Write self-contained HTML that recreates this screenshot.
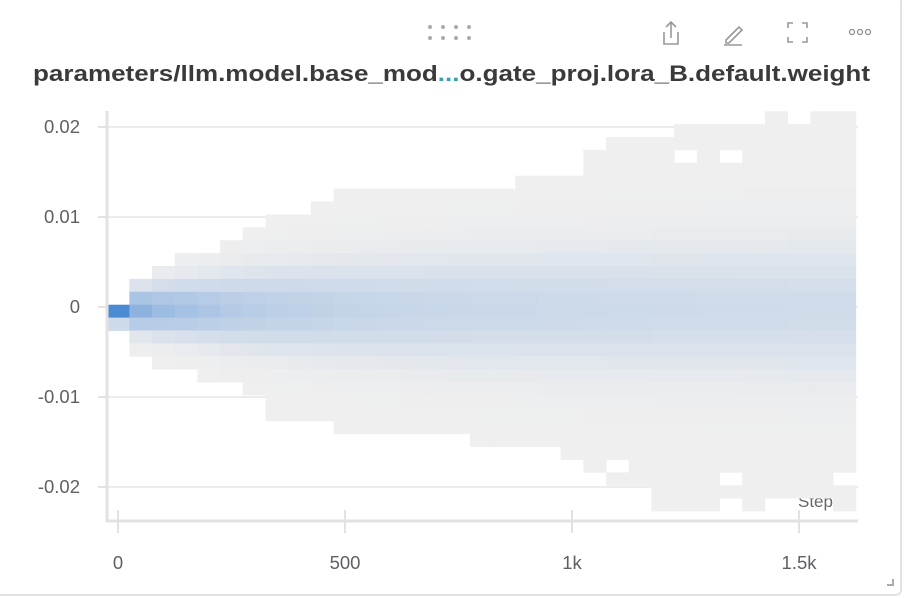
<!DOCTYPE html>
<html><head><meta charset="utf-8"><style>
html,body{margin:0;padding:0;background:#fff;}
#card{position:absolute;left:-4px;top:-4px;width:906px;height:600px;border:2px solid #e2e2e2;border-radius:6px;box-sizing:border-box;}
svg{position:absolute;left:0;top:0;font-family:"Liberation Sans",sans-serif;}
</style></head><body>
<div id="card"></div>
<svg id="chart" width="904" height="598">
  <g fill="#aaa">
    <circle cx="430" cy="27" r="2"/><circle cx="443" cy="27" r="2"/><circle cx="456" cy="27" r="2"/><circle cx="469" cy="27" r="2"/>
    <circle cx="430" cy="38" r="2"/><circle cx="443" cy="38" r="2"/><circle cx="456" cy="38" r="2"/><circle cx="469" cy="38" r="2"/>
  </g>
  <g fill="none" stroke="#999" stroke-width="1.6">
    <path d="M664 32 v12 h14 v-12"/><path d="M671 38 v-16 M666 27 l5-5 5 5"/>
  </g>
  <g fill="none" stroke="#999" stroke-width="1.6">
    <path d="M726 40 l13-13 3 3 -13 13 h-3z"/><path d="M724 45 h18"/>
  </g>
  <g fill="none" stroke="#999" stroke-width="1.6">
    <path d="M788 28 v-5 h5 M802 23 h5 v5 M807 37 v5 h-5 M793 42 h-5 v-5"/>
  </g>
  <g fill="none" stroke="#999" stroke-width="1.4">
    <circle cx="852" cy="32" r="2.5"/><circle cx="860" cy="32" r="2.5"/><circle cx="868" cy="32" r="2.5"/>
  </g>
  <text x="33" y="81" font-size="22" font-weight="bold" fill="#3a3a3a" textLength="837" lengthAdjust="spacingAndGlyphs">parameters/llm.model.base_mod<tspan fill="#3aa0b0">...</tspan>o.gate_proj.lora_B.default.weight</text>
  <g id="grid"></g>
  <text x="798" y="507" font-size="17" fill="#666">Step</text>
  <g id="cells"></g>
  <g id="axes"></g>
  <path d="M887 585 h6 v-6" fill="none" stroke="#aaa" stroke-width="2"/>
</svg>
<script>
const xTicks=[0,500,1000,1500];
const xTickLabels=["0","500","1k","1.5k"];
const yTicks=[0.02,0.01,0,-0.01,-0.02];
const yTickLabels=["0.02","0.01","0","-0.01","-0.02"];
const stepWidth=50;
const binWidth=0.001433;
const binOrigin=0.000256;
const colTop=[0.0003,0.0031,0.0046,0.006,0.006,0.0074,0.0089,0.0103,0.0103,0.0117,0.0132,0.0132,0.0132,0.0132,0.0132,0.0132,0.0132,0.0132,0.0146,0.0146,0.0146,0.0175,0.0189,0.0189,0.0189,0.0203,0.0203,0.0203,0.0203,0.0218,0.0203,0.0218,0.0218];
const colBottom=[-0.0026,-0.0055,-0.0069,-0.0069,-0.0083,-0.0083,-0.0098,-0.0126,-0.0126,-0.0126,-0.0141,-0.0141,-0.0141,-0.0141,-0.0141,-0.0141,-0.0155,-0.0155,-0.0155,-0.0155,-0.0169,-0.0184,-0.0198,-0.0198,-0.0227,-0.0227,-0.0227,-0.0212,-0.0227,-0.0212,-0.0212,-0.0212,-0.0227];
const colSpread=[0.0009,0.0015,0.0018,0.002,0.0022,0.0025,0.0027,0.0029,0.003,0.0032,0.0034,0.0035,0.0036,0.0037,0.0038,0.0039,0.004,0.004,0.0041,0.0042,0.0042,0.0043,0.0044,0.0044,0.0045,0.0045,0.0046,0.0046,0.0047,0.0047,0.0048,0.0048,0.0048];
const colCenter=-0.0003;
const emptyCells=[[25,0.0175],[27,0.0175],[22,-0.0169],[27,-0.0184],[32,-0.0184]];

const X0=118, XS=227/500, Y0=307, YS=9000, PL=107, PR=858, PT=111, PB=521;
const xS=s=>X0+s*XS, yS=v=>Y0-v*YS;
const NS="http://www.w3.org/2000/svg";
function mk(tag,attrs,parent){const e=document.createElementNS(NS,tag);for(const k in attrs)e.setAttribute(k,attrs[k]);parent.appendChild(e);return e;}
const grid=document.getElementById('grid'),cells=document.getElementById('cells'),axes=document.getElementById('axes');
yTicks.forEach((v,i)=>{
  const l=mk('line',{x1:PL,x2:PR,y1:yS(v),y2:yS(v),stroke:'#ececec','stroke-width':2},grid);
  
  
  const t=mk('line',{x1:PL-9,x2:PL,y1:yS(v),y2:yS(v),stroke:'#e2e2e2','stroke-width':2},axes);
  
  
  const tx=mk('text',{x:80,y:yS(v)+6,'text-anchor':'end','font-size':18.5,fill:'#5f5f66'},axes);
  tx.textContent=yTickLabels[i];
  
  
});
const ax=mk('line',{x1:PL,x2:PL,y1:PT,y2:PB+1,stroke:'#e2e2e2','stroke-width':3},axes);


const xl=mk('line',{x1:PL,x2:PR,y1:PB,y2:PB,stroke:'#e2e2e2','stroke-width':3},grid);


xTicks.forEach((s,i)=>{
  const t=mk('line',{x1:xS(s),x2:xS(s),y1:510,y2:533,stroke:'#e2e2e2','stroke-width':2},axes);
  
  
  const tx=mk('text',{x:xS(s),y:569,'text-anchor':'middle','font-size':18.5,fill:'#5f5f66'},axes);
  tx.textContent=xTickLabels[i];
  
  
});
const lo=[239,239,239],hi=[74,136,212];
function col(t){t=Math.max(0,Math.min(1,t));return 'rgb('+lo.map((a,i)=>Math.round(a+(hi[i]-a)*t)).join(',')+')';}
const binIdx=v=>Math.round((binOrigin-v)/binWidth);
colTop.forEach((top,c)=>{
  const r0=binIdx(top), r1=binIdx(colBottom[c]);
  const s0=c*stepWidth-stepWidth/2;
  const x1=Math.max(PL,xS(s0)), x2=Math.min(PR,xS(s0+stepWidth));
  for(let r=r0;r<r1;r++){
    const vTop=binOrigin-r*binWidth, vBot=vTop-binWidth, vc=(vTop+vBot)/2;
    if(emptyCells.some(e=>e[0]===c&&binIdx(e[1])===r))continue;
    const sg=colSpread[c];
    const t=0.0009*Math.exp(-Math.pow(vc-colCenter,2)/(2*sg*sg))/sg;
    const rc=mk('rect',{x:x1,y:yS(vTop),width:x2-x1+0.4,height:yS(vBot)-yS(vTop)+0.4,fill:col(t)},cells);
    
    
  }
});
</script>
</body></html>
